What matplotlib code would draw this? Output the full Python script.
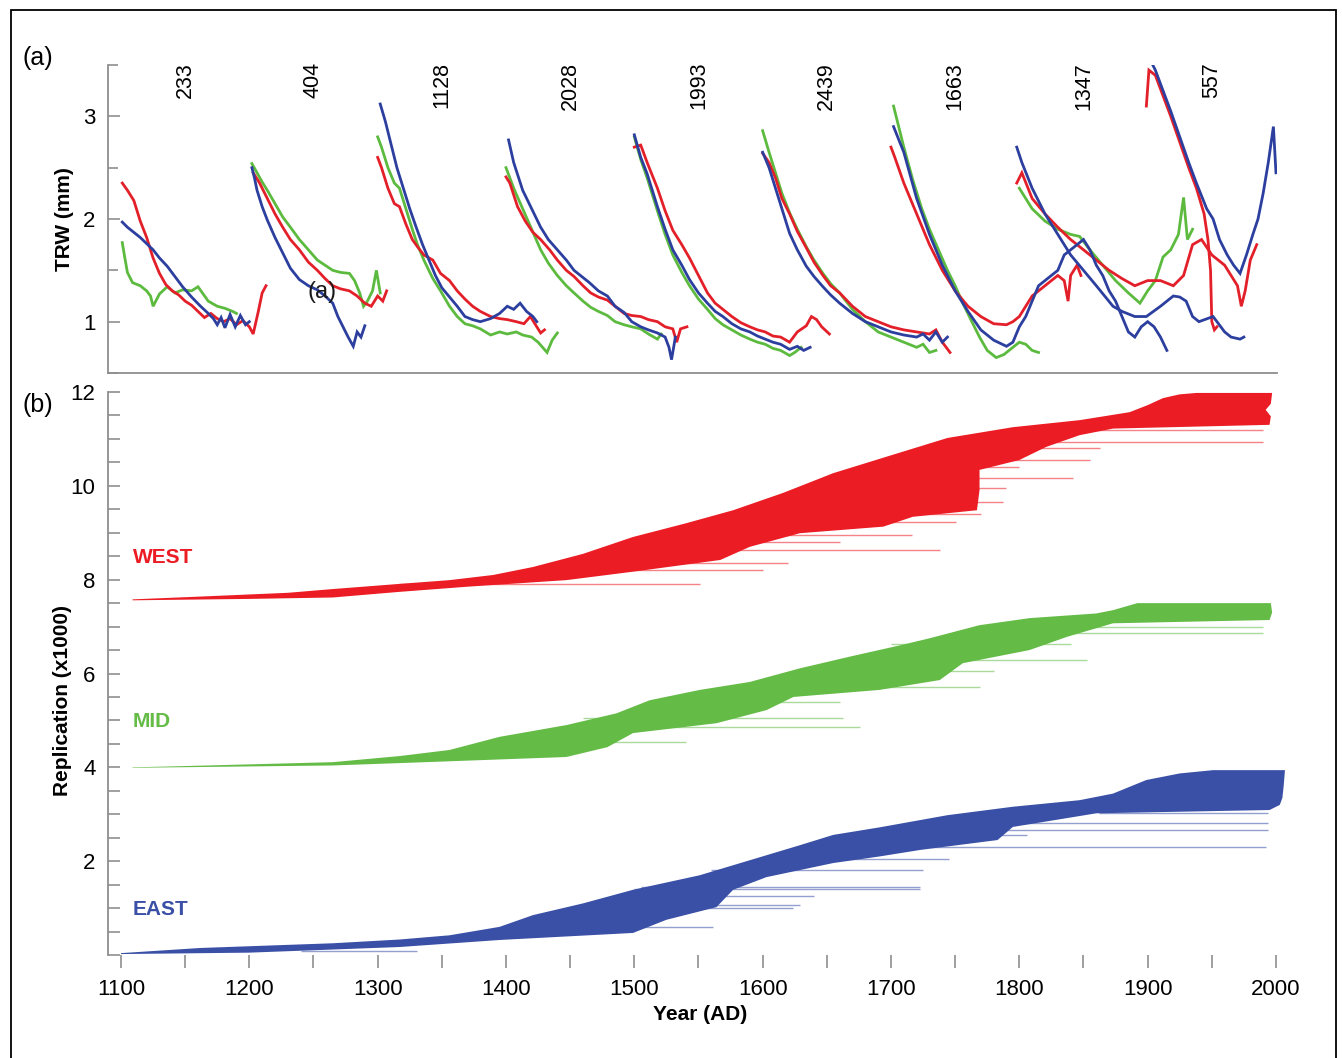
import numpy as np
import matplotlib
matplotlib.use("Agg")
import matplotlib.pyplot as plt
from matplotlib.patches import Rectangle
from matplotlib.ticker import MultipleLocator

plt.rcParams['font.family'] = ['Liberation Sans', 'DejaVu Sans']

RED = '#e3202a'
GREEN = '#5cbb3f'
BLUE = '#2c3f9f'
FILL_RED = '#ec1c24'
FILL_GREEN = '#64bb46'
FILL_BLUE = '#3a50a6'
GREY = '#8f8f8f'

# ---------------------------------------------------------------- panel (a)
# mean tree-ring width curves per germination century: (years, TRW mm)
cohort_years = [1150, 1250, 1350, 1450, 1550, 1650, 1750, 1850, 1950]
cohort_counts = [233, 404, 1128, 2028, 1993, 2439, 1663, 1347, 557]

red_1100 = ([1101, 1105, 1110, 1115, 1120, 1125, 1130, 1135, 1140, 1145, 1150, 1155, 1160, 1165, 1170,
             1175, 1180, 1185, 1190, 1195, 1200, 1203, 1207, 1210, 1213],
            [2.35, 2.28, 2.18, 1.98, 1.82, 1.62, 1.47, 1.36, 1.30, 1.26, 1.20, 1.16, 1.10, 1.04, 1.08,
             1.03, 1.00, 1.03, 0.97, 1.01, 0.95, 0.88, 1.10, 1.28, 1.35])
green_1100 = ([1101, 1103, 1105, 1109, 1115, 1120, 1123, 1125, 1130, 1136, 1142, 1148, 1155, 1160, 1168,
               1175, 1181, 1187, 1190],
              [1.77, 1.62, 1.48, 1.38, 1.35, 1.30, 1.25, 1.15, 1.27, 1.34, 1.28, 1.31, 1.30, 1.34, 1.20,
               1.15, 1.13, 1.10, 1.08])
blue_1100 = ([1101, 1105, 1110, 1115, 1120, 1125, 1130, 1136, 1142, 1148, 1155, 1162, 1168, 1172, 1175,
              1178, 1181, 1185, 1189, 1193, 1197, 1200],
             [1.97, 1.92, 1.87, 1.82, 1.76, 1.70, 1.62, 1.54, 1.44, 1.34, 1.24, 1.15, 1.08, 1.03, 0.97,
              1.04, 0.94, 1.07, 0.95, 1.06, 0.97, 1.00])

red_1200 = ([1203, 1208, 1214, 1220, 1226, 1232, 1239, 1246, 1253, 1259, 1265, 1271, 1278, 1284, 1290,
             1295, 1300, 1304, 1307],
            [2.45, 2.35, 2.20, 2.05, 1.92, 1.80, 1.70, 1.58, 1.50, 1.42, 1.35, 1.32, 1.30, 1.25, 1.18,
             1.15, 1.25, 1.20, 1.30])
green_1200 = ([1202, 1206, 1210, 1214, 1220, 1226, 1232, 1239, 1246, 1253, 1259, 1265, 1271, 1278, 1282,
               1286, 1289, 1292, 1296, 1299, 1302],
              [2.54, 2.45, 2.36, 2.28, 2.15, 2.02, 1.92, 1.80, 1.70, 1.60, 1.55, 1.50, 1.48, 1.47, 1.40,
               1.28, 1.15, 1.20, 1.30, 1.50, 1.28])
blue_1200 = ([1202, 1204, 1206, 1210, 1214, 1220, 1226, 1232, 1239, 1246, 1253, 1259, 1265, 1269, 1273,
              1277, 1281, 1284, 1287, 1290],
             [2.50, 2.40, 2.28, 2.12, 1.99, 1.82, 1.67, 1.52, 1.41, 1.35, 1.31, 1.25, 1.18, 1.05, 0.95,
              0.85, 0.76, 0.90, 0.85, 0.96])

red_1300 = ([1300, 1303, 1308, 1313, 1317, 1322, 1327, 1331, 1336, 1343, 1349, 1356, 1362, 1368, 1374,
             1380, 1388, 1395, 1401, 1408, 1414, 1419, 1424, 1427, 1430],
            [2.60, 2.50, 2.30, 2.15, 2.12, 1.95, 1.80, 1.73, 1.65, 1.60, 1.47, 1.40, 1.30, 1.22, 1.15,
             1.10, 1.05, 1.03, 1.02, 1.00, 0.98, 1.05, 0.95, 0.89, 0.92])
green_1300 = ([1300, 1303, 1308, 1313, 1317, 1322, 1327, 1331, 1336, 1343, 1349, 1356, 1362, 1368, 1374,
               1380, 1388, 1395, 1401, 1408, 1413, 1420, 1425, 1432, 1436, 1440],
              [2.80, 2.70, 2.50, 2.35, 2.30, 2.10, 1.90, 1.75, 1.60, 1.42, 1.30, 1.15, 1.05, 0.98, 0.96,
               0.93, 0.87, 0.90, 0.88, 0.90, 0.87, 0.85, 0.80, 0.70, 0.82, 0.89])
blue_1300 = ([1302, 1306, 1310, 1315, 1320, 1325, 1330, 1335, 1340, 1345, 1350, 1356, 1362, 1368, 1374,
              1380, 1388, 1395, 1401, 1406, 1411, 1416, 1421, 1424],
             [3.12, 2.95, 2.75, 2.50, 2.30, 2.10, 1.92, 1.75, 1.60, 1.45, 1.33, 1.24, 1.15, 1.05, 1.02,
              1.00, 1.03, 1.08, 1.15, 1.12, 1.18, 1.10, 1.05, 1.00])

red_1400 = ([1400, 1403, 1409, 1415, 1421, 1427, 1434, 1440, 1447, 1453, 1460, 1466, 1472, 1479, 1485,
             1492, 1498, 1505, 1511, 1518, 1524, 1530, 1533, 1536, 1541],
            [2.41, 2.35, 2.12, 1.98, 1.87, 1.80, 1.70, 1.60, 1.50, 1.44, 1.35, 1.28, 1.24, 1.21, 1.15,
             1.08, 1.06, 1.05, 1.02, 1.00, 0.95, 0.93, 0.80, 0.93, 0.95])
green_1400 = ([1400, 1406, 1413, 1420, 1427, 1433, 1440, 1447, 1453, 1460, 1466, 1472, 1479, 1485, 1492,
               1498, 1505, 1511, 1518, 1521],
              [2.50, 2.30, 2.10, 1.90, 1.70, 1.57, 1.45, 1.35, 1.28, 1.20, 1.14, 1.10, 1.06, 1.00, 0.97,
               0.95, 0.93, 0.88, 0.83, 0.88])
blue_1400 = ([1402, 1406, 1413, 1420, 1427, 1433, 1440, 1447, 1453, 1459, 1465, 1472, 1479, 1485, 1492,
              1498, 1505, 1511, 1518, 1524, 1527, 1529, 1532],
             [2.77, 2.55, 2.28, 2.10, 1.92, 1.80, 1.70, 1.60, 1.50, 1.44, 1.38, 1.30, 1.25, 1.15, 1.09,
              1.00, 0.95, 0.92, 0.89, 0.85, 0.75, 0.63, 0.85])

red_1500 = ([1500, 1505, 1510, 1518, 1524, 1530, 1537, 1543, 1550, 1557, 1563, 1569, 1576, 1583, 1590,
             1596, 1602, 1608, 1614, 1621, 1627, 1634, 1638, 1642, 1646, 1652],
            [2.70, 2.72, 2.55, 2.30, 2.08, 1.89, 1.75, 1.62, 1.45, 1.28, 1.18, 1.12, 1.05, 0.99, 0.95,
             0.92, 0.90, 0.86, 0.85, 0.80, 0.90, 0.96, 1.05, 1.02, 0.95, 0.88])
green_1500 = ([1500, 1505, 1510, 1518, 1524, 1530, 1537, 1543, 1550, 1557, 1563, 1569, 1576, 1583, 1590,
               1596, 1602, 1608, 1614, 1621, 1625, 1630],
              [2.80, 2.58, 2.40, 2.08, 1.85, 1.65, 1.48, 1.35, 1.22, 1.12, 1.03, 0.97, 0.92, 0.87, 0.83,
               0.80, 0.78, 0.74, 0.72, 0.67, 0.70, 0.75])
blue_1500 = ([1500, 1505, 1510, 1518, 1524, 1530, 1537, 1543, 1550, 1557, 1563, 1569, 1576, 1583, 1590,
              1596, 1602, 1608, 1614, 1621, 1627, 1632, 1637],
             [2.82, 2.60, 2.44, 2.12, 1.90, 1.70, 1.55, 1.41, 1.28, 1.18, 1.10, 1.05, 0.98, 0.93, 0.90,
              0.86, 0.83, 0.80, 0.78, 0.73, 0.76, 0.72, 0.75])

red_1600 = ([1600, 1605, 1610, 1615, 1621, 1627, 1634, 1640, 1647, 1653, 1660, 1670, 1680, 1690, 1700,
             1710, 1720, 1730, 1735, 1740, 1746],
            [2.64, 2.55, 2.40, 2.20, 2.05, 1.88, 1.72, 1.58, 1.45, 1.35, 1.28, 1.15, 1.05, 1.00, 0.95,
             0.92, 0.90, 0.88, 0.92, 0.80, 0.70])
green_1600 = ([1600, 1605, 1610, 1615, 1621, 1627, 1634, 1640, 1647, 1653, 1660, 1670, 1680, 1690, 1700,
               1710, 1720, 1725, 1730, 1735],
              [2.86, 2.65, 2.45, 2.25, 2.06, 1.90, 1.73, 1.60, 1.47, 1.37, 1.28, 1.12, 1.00, 0.90, 0.85,
               0.80, 0.75, 0.78, 0.70, 0.72])
blue_1600 = ([1600, 1605, 1610, 1615, 1621, 1627, 1634, 1640, 1647, 1653, 1660, 1670, 1680, 1690, 1700,
              1710, 1720, 1725, 1730, 1735, 1740, 1744],
             [2.65, 2.50, 2.30, 2.10, 1.86, 1.70, 1.54, 1.44, 1.34, 1.26, 1.18, 1.08, 1.00, 0.95, 0.90,
              0.87, 0.85, 0.88, 0.82, 0.90, 0.80, 0.85])

red_1700 = ([1700, 1703, 1710, 1720, 1730, 1740, 1750, 1760, 1770, 1780, 1790, 1795, 1800, 1805, 1810,
             1815, 1820, 1825, 1830, 1835, 1838, 1840, 1845, 1848],
            [2.70, 2.60, 2.35, 2.05, 1.75, 1.50, 1.30, 1.15, 1.05, 0.98, 0.97, 1.00, 1.05, 1.15, 1.25,
             1.30, 1.35, 1.40, 1.45, 1.40, 1.20, 1.45, 1.55, 1.45])
green_1700 = ([1702, 1705, 1710, 1717, 1724, 1730, 1737, 1744, 1750, 1756, 1763, 1769, 1775, 1782, 1788,
               1795, 1800, 1805, 1810, 1815],
              [3.10, 2.95, 2.70, 2.38, 2.10, 1.90, 1.70, 1.50, 1.35, 1.18, 1.00, 0.85, 0.72, 0.65, 0.68,
               0.75, 0.80, 0.78, 0.72, 0.70])
blue_1700 = ([1702, 1710, 1720, 1730, 1740, 1750, 1760, 1770, 1780, 1790, 1795, 1800, 1805, 1810, 1815,
              1820, 1825, 1830, 1835, 1840, 1845, 1850, 1855, 1860, 1865, 1870, 1875, 1880, 1885, 1890,
              1895, 1900, 1905, 1910, 1915],
             [2.90, 2.65, 2.20, 1.85, 1.55, 1.30, 1.10, 0.92, 0.82, 0.76, 0.80, 0.95, 1.05, 1.20, 1.35,
              1.40, 1.45, 1.50, 1.65, 1.70, 1.75, 1.80, 1.70, 1.55, 1.45, 1.30, 1.20, 1.05, 0.90, 0.85,
              0.95, 1.00, 0.95, 0.85, 0.72])

red_1800 = ([1798, 1802, 1810, 1820, 1830, 1840, 1850, 1860, 1870, 1880, 1890, 1900, 1910, 1920, 1928,
             1935, 1942, 1950, 1960, 1965, 1970, 1973, 1976, 1980, 1985],
            [2.35, 2.45, 2.20, 2.05, 1.92, 1.80, 1.70, 1.60, 1.50, 1.42, 1.35, 1.40, 1.40, 1.35, 1.45,
             1.75, 1.80, 1.65, 1.55, 1.45, 1.35, 1.15, 1.30, 1.60, 1.75])
green_1800 = ([1800, 1810, 1820, 1830, 1840, 1847, 1855, 1865, 1875, 1885, 1894, 1900, 1906, 1912, 1918,
               1924, 1928, 1931, 1935],
              [2.30, 2.10, 1.98, 1.90, 1.85, 1.83, 1.70, 1.55, 1.40, 1.28, 1.18, 1.30, 1.40, 1.63, 1.70,
               1.85, 2.21, 1.80, 1.90])
blue_1800 = ([1798, 1802, 1810, 1820, 1830, 1840, 1850, 1860, 1873, 1880, 1890, 1899, 1910, 1920, 1925,
              1930, 1935, 1940, 1951, 1960, 1965, 1972, 1975],
             [2.70, 2.55, 2.30, 2.05, 1.85, 1.65, 1.50, 1.35, 1.15, 1.10, 1.05, 1.05, 1.15, 1.25, 1.24,
              1.20, 1.05, 1.00, 1.05, 0.90, 0.85, 0.83, 0.85])

red_1900 = ([1899, 1901, 1906, 1912, 1918, 1925, 1932, 1938, 1944, 1947, 1949, 1950, 1952, 1954],
            [3.10, 3.45, 3.40, 3.20, 3.00, 2.75, 2.50, 2.30, 2.05, 1.80, 1.50, 1.00, 0.92, 0.95])
blue_1900 = ([1902, 1906, 1912, 1918, 1925, 1932, 1938, 1946, 1951, 1956, 1962, 1967, 1972, 1977, 1982,
              1986, 1990, 1994, 1998, 2000],
             [3.55, 3.45, 3.25, 3.05, 2.80, 2.55, 2.35, 2.10, 2.00, 1.80, 1.65, 1.55, 1.47, 1.65, 1.85,
              2.00, 2.25, 2.55, 2.90, 2.45])

green_curves = [green_1100, green_1200, green_1300, green_1400, green_1500, green_1600, green_1700,
                green_1800]
red_curves = [red_1100, red_1200, red_1300, red_1400, red_1500, red_1600, red_1700, red_1800, red_1900]
blue_curves = [blue_1100, blue_1200, blue_1300, blue_1400, blue_1500, blue_1600, blue_1700, blue_1800,
               blue_1900]

# ---------------------------------------------------------------- panel (b)
# replication: upper-left edge (series start), right end and lower-right edge (series end)
west_start_yr = [1109, 1162, 1230, 1265, 1317, 1356, 1390, 1421, 1460, 1499, 1540, 1577, 1616, 1655,
                 1700, 1744, 1795, 1847, 1886, 1900, 1912, 1925, 1938]
west_start_val = [7.58, 7.64, 7.72, 7.80, 7.91, 7.99, 8.10, 8.27, 8.55, 8.91, 9.20, 9.48, 9.85, 10.27,
                  10.65, 11.02, 11.25, 11.40, 11.57, 11.72, 11.87, 11.95, 11.98]
west_end_yr = [1997, 1996, 1992, 1996, 1995, 1873, 1847, 1821, 1800, 1769, 1769, 1767, 1717, 1694,
               1629, 1590, 1567, 1499, 1447, 1370, 1317, 1265, 1200, 1109]
west_end_val = [11.98, 11.75, 11.62, 11.48, 11.30, 11.22, 11.08, 10.83, 10.55, 10.34, 9.91, 9.48, 9.34,
                9.13, 8.99, 8.70, 8.42, 8.17, 7.99, 7.85, 7.74, 7.62, 7.59, 7.56]
west_line_val = [11.18, 10.94, 10.80, 10.55, 10.40, 10.16, 9.95, 9.66, 9.40, 9.22, 8.95, 8.80, 8.63,
                 8.35, 8.20, 7.91]
west_line_start = [1800, 1735, 1725, 1705, 1695, 1680, 1665, 1640, 1620, 1600, 1540, 1530, 1515, 1475,
                   1450, 1317]
west_line_end = [1990, 1990, 1863, 1855, 1800, 1842, 1790, 1787, 1770, 1751, 1716, 1660, 1738, 1620,
                 1600, 1551]

mid_start_yr = [1109, 1140, 1265, 1317, 1356, 1395, 1447, 1486, 1512, 1551, 1590, 1629, 1668, 1707,
                1730, 1769, 1808, 1860, 1873, 1892]
mid_start_val = [4.00, 4.02, 4.11, 4.24, 4.37, 4.65, 4.90, 5.15, 5.43, 5.65, 5.82, 6.11, 6.36, 6.60,
                 6.75, 7.03, 7.18, 7.28, 7.35, 7.50]
mid_end_yr = [1996, 1997, 1995, 1873, 1837, 1808, 1756, 1738, 1691, 1624, 1603, 1564, 1499, 1479,
              1447, 1317, 1265, 1109]
mid_end_val = [7.50, 7.30, 7.14, 7.07, 6.78, 6.50, 6.22, 5.86, 5.65, 5.50, 5.22, 4.94, 4.73, 4.43,
               4.22, 4.09, 4.04, 3.99]
mid_line_val = [6.99, 6.86, 6.62, 6.29, 6.05, 5.71, 5.40, 5.05, 4.86, 4.55]
mid_line_start = [1765, 1755, 1700, 1660, 1630, 1580, 1535, 1460, 1440, 1420]
mid_line_end = [1990, 1990, 1840, 1853, 1780, 1769, 1660, 1663, 1676, 1540]

east_start_yr = [1100, 1162, 1265, 1317, 1356, 1395, 1421, 1460, 1499, 1551, 1590, 1629, 1655, 1691,
                 1744, 1795, 1847, 1873, 1899, 1925, 1951]
east_start_val = [0.04, 0.15, 0.25, 0.33, 0.42, 0.60, 0.85, 1.10, 1.39, 1.70, 2.02, 2.34, 2.56, 2.72,
                  2.98, 3.16, 3.30, 3.44, 3.73, 3.87, 3.94]
east_end_yr = [2007, 2006, 2005, 2003, 1995, 1860, 1795, 1783, 1723, 1691, 1655, 1603, 1577, 1564,
               1525, 1499, 1395, 1317, 1200, 1100]
east_end_val = [3.94, 3.60, 3.35, 3.20, 3.09, 3.02, 2.73, 2.45, 2.24, 2.10, 1.96, 1.66, 1.39, 1.02,
                0.75, 0.47, 0.32, 0.17, 0.05, 0.02]
east_line_val = [3.02, 2.81, 2.66, 2.55, 2.30, 2.05, 1.81, 1.45, 1.41, 1.25, 1.07, 1.00, 0.60, 0.08]
east_line_start = [1862, 1795, 1765, 1745, 1700, 1640, 1560, 1505, 1500, 1485, 1470, 1462, 1400, 1240]
east_line_end = [1994, 1994, 1994, 1806, 1992, 1745, 1725, 1723, 1723, 1640, 1629, 1624, 1561, 1331]

# ---------------------------------------------------------------- figure
fig = plt.figure(figsize=(13.42, 10.58), dpi=100)
W, H = 1342.0, 1058.0

# thin frame around the whole figure
fig.patches.append(Rectangle((11 / W, -0.01), (1336 - 11) / W, 1.01 - 10 / H,
                             transform=fig.transFigure, fill=False, edgecolor='black', linewidth=1.3))

xlim = (1089.87, 2000.8)
ax_a = fig.add_axes([108 / W, 1 - 373 / H, 1169 / W, 308 / H])
ax_b = fig.add_axes([108 / W, 1 - 955 / H, 1169 / W, 563 / H])

# panel (a)
for curves, col in ((green_curves, GREEN), (red_curves, RED), (blue_curves, BLUE)):
    for yrs, vals in curves:
        ax_a.plot(yrs, vals, color=col, linewidth=2.0, solid_joinstyle='miter')

ax_a.set_xlim(*xlim)
ax_a.set_ylim(0.5, 3.5)
for n, x in zip(cohort_counts, cohort_years):
    ax_a.text(x, 3.53, str(n), rotation=90, ha='center', va='top', fontsize=15.5, clip_on=False)
ax_a.text(1257, 1.29, '(a)', ha='center', va='center', fontsize=17, color='#1a1a1a')

ax_a.spines['top'].set_visible(False)
ax_a.spines['right'].set_visible(False)
for s in ('left', 'bottom'):
    ax_a.spines[s].set_color(GREY)
    ax_a.spines[s].set_linewidth(1.3)
ax_a.yaxis.set_major_locator(MultipleLocator(1))
ax_a.yaxis.set_minor_locator(MultipleLocator(0.5))
ax_a.tick_params(axis='y', which='major', direction='in', length=8.5, width=1.2, color=GREY,
                 labelsize=16, pad=9)
ax_a.tick_params(axis='y', which='minor', direction='in', length=7, width=1.2, color=GREY)
ax_a.tick_params(axis='x', which='both', bottom=False, labelbottom=False)
ax_a.set_yticks([1, 2, 3])
ax_a.patch.set_alpha(0)


# panel (b)
def draw_block(ax, s_yr, s_val, e_yr, e_val, l_val, l_start, l_end, col):
    px = np.concatenate([s_yr, e_yr])
    py = np.concatenate([s_val, e_val])
    ax.fill(px, py, color=col, linewidth=0, clip_on=False)
    ax.hlines(l_val, l_start, l_end, colors=col, linewidth=1.0, alpha=0.55, clip_on=False)


draw_block(ax_b, west_start_yr, west_start_val, west_end_yr, west_end_val,
           west_line_val, west_line_start, west_line_end, FILL_RED)
draw_block(ax_b, mid_start_yr, mid_start_val, mid_end_yr, mid_end_val,
           mid_line_val, mid_line_start, mid_line_end, FILL_GREEN)
draw_block(ax_b, east_start_yr, east_start_val, east_end_yr, east_end_val,
           east_line_val, east_line_start, east_line_end, FILL_BLUE)

ax_b.text(1109, 8.48, 'WEST', color=FILL_RED, fontsize=15, fontweight='bold', va='center')
ax_b.text(1109, 4.97, 'MID', color=FILL_GREEN, fontsize=15, fontweight='bold', va='center')
ax_b.text(1109, 0.96, 'EAST', color=FILL_BLUE, fontsize=15, fontweight='bold', va='center')

ax_b.set_xlim(*xlim)
ax_b.set_ylim(0, 12)
for s in ('top', 'right', 'bottom'):
    ax_b.spines[s].set_visible(False)
ax_b.spines['left'].set_color(GREY)
ax_b.spines['left'].set_linewidth(1.3)
ax_b.set_yticks([0, 2, 4, 6, 8, 10, 12])
ax_b.set_yticklabels(['', '2', '4', '6', '8', '10', '12'])
ax_b.yaxis.set_minor_locator(MultipleLocator(0.5))
ax_b.tick_params(axis='y', which='major', direction='in', length=8.5, width=1.2, color=GREY,
                 labelsize=16, pad=9)
ax_b.tick_params(axis='y', which='minor', direction='in', length=8.5, width=1.2, color=GREY)
ax_b.set_xticks(np.arange(1100, 2001, 100))
ax_b.xaxis.set_minor_locator(MultipleLocator(50))
ax_b.tick_params(axis='x', which='both', direction='out', length=9, width=1.2, color=GREY)
ax_b.tick_params(axis='x', which='major', labelsize=16, pad=8)
ax_b.patch.set_alpha(0)

# labels
fig.text(65 / W, 1 - 219 / H, 'TRW (mm)', rotation=90, ha='center', va='center',
         fontsize=15, fontweight='bold')
fig.text(62 / W, 1 - 700 / H, 'Replication (x1000)', rotation=90, ha='center', va='center',
         fontsize=15, fontweight='bold')
fig.text(700 / W, 1 - 1015 / H, 'Year (AD)', ha='center', va='center', fontsize=15, fontweight='bold')
fig.text(22 / W, 1 - 58 / H, '(a)', ha='left', va='center', fontsize=18)
fig.text(22 / W, 1 - 405 / H, '(b)', ha='left', va='center', fontsize=18)

fig.savefig('out.png', dpi=100)
